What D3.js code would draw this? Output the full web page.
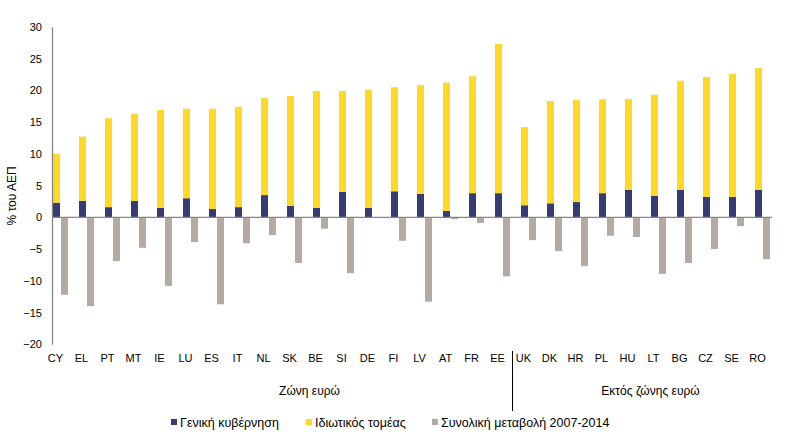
<!DOCTYPE html>
<html>
<head>
<meta charset="utf-8">
<script src="https://cdn.jsdelivr.net/npm/d3@7"></script>
<style>
  html, body { margin: 0; padding: 0; background: #fff; }
  svg { display: block; font-family: "Liberation Sans", Arial, sans-serif; }
</style>
</head>
<body>
<svg id="chart" width="804" height="446"></svg>
<script>
// ---- data ----
const categories = ["CY","EL","PT","MT","IE","LU","ES","IT","NL","SK","BE","SI","DE","FI","LV","AT","FR","EE",
                    "UK","DK","HR","PL","HU","LT","BG","CZ","SE","RO"];
const generalGov = [2.3,2.6,1.6,2.6,1.5,3.0,1.3,1.6,3.5,1.8,1.5,4.0,1.5,4.1,3.7,1.0,3.8,3.8,
                    1.9,2.2,2.4,3.8,4.3,3.4,4.3,3.2,3.2,4.3];
const privateSector = [7.7,10.1,14.0,13.7,15.4,14.1,15.8,15.8,15.3,17.3,18.4,15.9,18.6,16.4,17.1,20.2,18.4,23.5,
                       12.3,16.1,16.1,14.8,14.3,15.9,17.2,18.9,19.4,19.2];
const totalChange = [-12.2,-14.0,-6.9,-4.8,-10.8,-3.9,-13.7,-4.1,-2.8,-7.2,-1.8,-8.8,0,-3.7,-13.3,-0.3,-0.9,-9.3,
                     -3.6,-5.3,-7.7,-2.9,-3.1,-8.9,-7.2,-5.0,-1.4,-6.6];
const yTicks = [-20,-15,-10,-5,0,5,10,15,20,25,30];
const groupNames = ["Ζώνη ευρώ", "Εκτός ζώνης ευρώ"];
const groupSizes = [18, 10];
const seriesNames = ["Γενική κυβέρνηση", "Ιδιωτικός τομέας", "Συνολική μεταβολή 2007-2014"];
const colors = ["#363B74", "#FFD923", "#B5A9A2"];
const yTitle = "% του ΑΕΠ";

// ---- layout ----
const svg = d3.select("#chart");
const plotLeft = 52, plotRight = 772, plotTop = 26.8, plotBottom = 344.3;

const y = d3.scaleLinear().domain([-20, 30]).range([plotBottom, plotTop]);
const x0 = d3.scaleBand().domain(categories).range([53, 53 + 26 * categories.length]).paddingInner(0).paddingOuter(0);
const x1 = d3.scaleBand().domain(["stack", "total"]).range([0, 15]).paddingInner(0.125).paddingOuter(0);

const rows = categories.map((c, i) => ({c, gov: generalGov[i], priv: privateSector[i], tot: totalChange[i]}));
const stack = d3.stack().keys(["gov", "priv"])(rows);

// bars: stacked
stack.forEach((layer, li) => {
  svg.append("g").attr("fill", colors[li])
    .selectAll("rect").data(layer).join("rect")
    .attr("x", d => x0(d.data.c) + x1("stack"))
    .attr("width", x1.bandwidth())
    .attr("y", d => y(d[1]))
    .attr("height", d => y(d[0]) - y(d[1]));
});

// bars: total change
svg.append("g").attr("fill", colors[2])
  .selectAll("rect").data(rows).join("rect")
  .attr("x", d => x0(d.c) + x1("total"))
  .attr("width", x1.bandwidth())
  .attr("y", d => y(Math.max(0, d.tot)))
  .attr("height", d => Math.abs(y(d.tot) - y(0)));

// y axis
const yAxis = d3.axisLeft(y).tickValues(yTicks).tickSize(0).tickPadding(10).tickFormat(d3.format("d"));
const gy = svg.append("g").attr("transform", `translate(${plotLeft},0)`).call(yAxis);
gy.select(".domain").attr("stroke", "#868686").attr("stroke-width", 1.3);
gy.selectAll("text").attr("font-size", 11).attr("fill", "#000")
  .attr("font-family", "Liberation Sans, Arial, sans-serif");

// x axis line at zero
svg.append("line")
  .attr("x1", plotLeft).attr("x2", plotRight)
  .attr("y1", y(0)).attr("y2", y(0))
  .attr("stroke", "#868686").attr("stroke-width", 1.3);

// category labels
svg.append("g").selectAll("text").data(categories).join("text")
  .attr("x", c => x0(c) + x1("stack") + x1.bandwidth() / 2 - 1)
  .attr("y", 362)
  .attr("text-anchor", "middle")
  .attr("font-size", 11)
  .attr("fill", "#000")
  .text(c => c);

// group divider
const divX = x0(categories[groupSizes[0]]) - 8.5;
svg.append("line")
  .attr("x1", divX).attr("x2", divX)
  .attr("y1", 351).attr("y2", 411)
  .attr("stroke", "#000").attr("stroke-width", 1);

// group labels
const g1Center = (x0(categories[0]) + x0(categories[groupSizes[0] - 1]) + 15) / 2;
const g2Center = (x0(categories[groupSizes[0]]) + x0(categories[categories.length - 1]) + 15) / 2;
svg.append("g").selectAll("text").data(groupNames).join("text")
  .attr("x", (d, i) => i === 0 ? g1Center + 28 : g2Center + 5)
  .attr("y", 395)
  .attr("text-anchor", "middle")
  .attr("font-size", 12)
  .attr("fill", "#000")
  .text(d => d);

// y title
svg.append("text")
  .attr("transform", "translate(16,196) rotate(-90)")
  .attr("text-anchor", "middle")
  .attr("font-size", 12)
  .attr("fill", "#000")
  .text(yTitle);

// legend
const legendX = [171, 306, 432];
const lg = svg.append("g").selectAll("g").data(seriesNames).join("g")
  .attr("transform", (d, i) => `translate(${legendX[i]},419)`);
lg.append("rect").attr("width", 6).attr("height", 6).attr("fill", (d, i) => colors[i]);
lg.append("text").attr("x", 9).attr("y", 7.5)
  .attr("font-size", 12.5).attr("fill", "#000").text(d => d);
</script>
</body>
</html>
